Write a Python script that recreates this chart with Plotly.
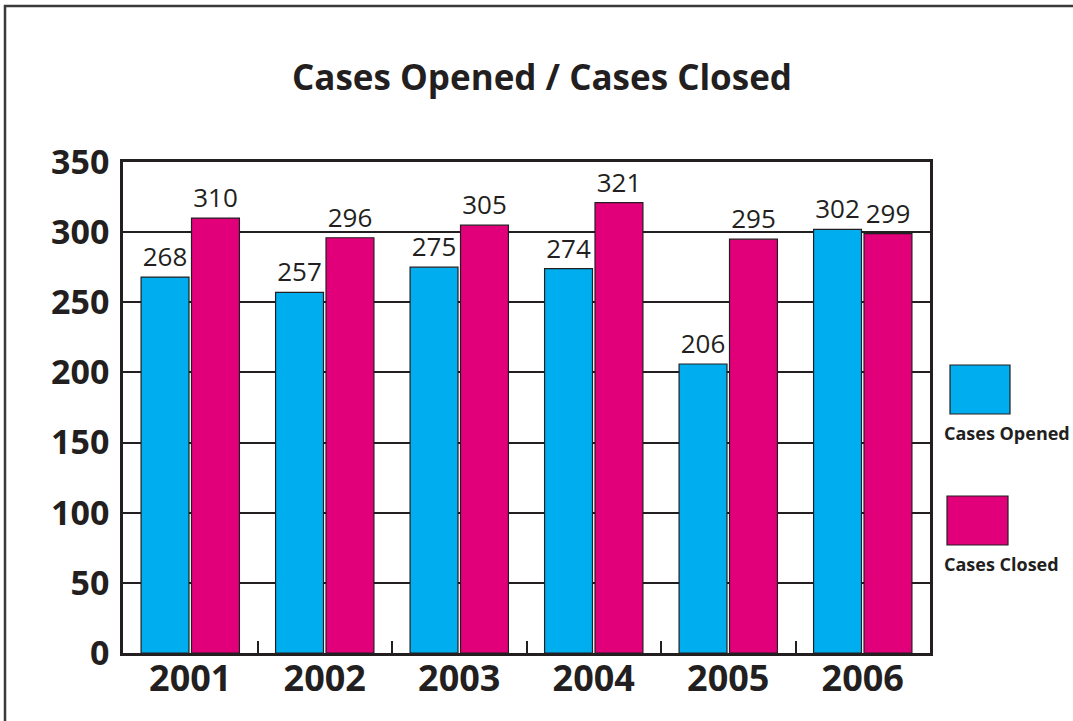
import plotly.graph_objects as go

years = ["2001", "2002", "2003", "2004", "2005", "2006"]
opened = [268, 257, 275, 274, 206, 302]
closed = [310, 296, 305, 321, 295, 299]
y_ticks = [0, 50, 100, 150, 200, 250, 300, 350]

BLUE = "#00AEEF"
PINK = "#E2007A"
INK = "#231F20"
FONT = "Open Sans"

W, H = 1073, 721
L, R, T, B = 123, 930, 162, 653

def px(x):
    return (x - L) / (R - L)

def py(y):
    return (B - y) / (B - T)

fig = go.Figure()
fig.add_trace(go.Bar(
    x=years, y=opened, name="Cases Opened",
    marker=dict(color=BLUE, line=dict(color=INK, width=1.2)),
    text=[str(v) for v in opened], textposition="outside",
    textfont=dict(family=FONT, size=26, color=INK), cliponaxis=False,
))
fig.add_trace(go.Bar(
    x=years, y=closed, name="Cases Closed",
    marker=dict(color=PINK, line=dict(color=INK, width=1.2)),
    text=[str(v) for v in closed], textposition="outside",
    textfont=dict(family=FONT, size=26, color=INK), cliponaxis=False,
))

shapes = [
    # outer frame
    dict(type="rect", xref="paper", yref="paper",
         x0=px(5), x1=px(1090), y0=py(740), y1=py(6),
         line=dict(color="#3a3a3a", width=2.5), fillcolor="rgba(0,0,0,0)", layer="below"),
    # legend swatches
    dict(type="rect", xref="paper", yref="paper",
         x0=px(950), x1=px(1010), y0=py(414), y1=py(365),
         line=dict(color=INK, width=1.2), fillcolor=BLUE),
    dict(type="rect", xref="paper", yref="paper",
         x0=px(947), x1=px(1008), y0=py(545), y1=py(496),
         line=dict(color=INK, width=1.2), fillcolor=PINK),
]

annotations = [
    dict(text="<b>Cases Opened</b>", xref="paper", yref="paper",
         x=px(942), y=py(433), xanchor="left", yanchor="middle", showarrow=False,
         font=dict(family=FONT, size=18, color=INK)),
    dict(text="<b>Cases Closed</b>", xref="paper", yref="paper",
         x=px(942), y=py(564), xanchor="left", yanchor="middle", showarrow=False,
         font=dict(family=FONT, size=18, color=INK)),
]

fig.update_layout(
    width=W, height=H,
    margin=dict(l=L, r=W - R, t=T, b=H - B),
    paper_bgcolor="white", plot_bgcolor="white",
    barmode="group", bargap=0.25, bargroupgap=0.05,
    showlegend=False,
    title=dict(text="<b>Cases Opened / Cases Closed</b>", x=542 / W, xanchor="center",
               y=1 - 78 / H, yanchor="middle",
               font=dict(family=FONT, size=35, color=INK)),
    shapes=shapes, annotations=annotations,
    xaxis=dict(
        type="category", showline=True, linecolor=INK, linewidth=2.5, mirror=True,
        ticks="inside", tickson="boundaries", ticklen=12, tickcolor=INK, tickwidth=2,
        showgrid=False, ticklabelstandoff=-8,
        tickfont=dict(family=FONT, size=36, color=INK),
        tickprefix="<b>", ticksuffix="</b>",
    ),
    yaxis=dict(
        range=[0, 350], tickvals=y_ticks, ticktext=[f"<b>{v}</b>" for v in y_ticks],
        showline=True, linecolor=INK, linewidth=2.5, mirror=True,
        showgrid=True, gridcolor=INK, gridwidth=2, zeroline=False,
        ticks="", ticklabelstandoff=4,
        tickfont=dict(family=FONT, size=34, color=INK),
    ),
)

fig.write_html("out.html", config={"displayModeBar": False},
               post_script="document.body.style.margin='0';")
